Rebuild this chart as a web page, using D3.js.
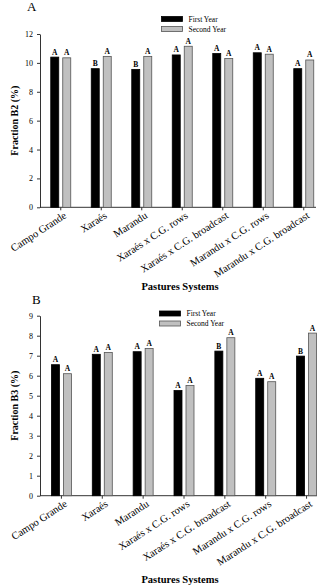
<!DOCTYPE html>
<html>
<head>
<meta charset="utf-8">
<script src="https://cdn.jsdelivr.net/npm/d3@7"></script>
<style>
  body { margin: 0; background: #fff; }
  svg { display: block; font-family: "Liberation Serif", "Times New Roman", serif; }
</style>
</head>
<body>
<div id="root"></div>
<script>
// pasture systems on the x axis
const categories = ["Campo Grande", "Xaraés", "Marandu", "Xaraés x C.G. rows",
    "Xaraés x C.G. broadcast", "Marandu x C.G. rows", "Marandu x C.G. broadcast"];
const seriesNames = ["First Year", "Second Year"];

// panel A - fraction B2
const b2First = [10.4, 9.6, 9.55, 10.55, 10.65, 10.7, 9.6];
const b2Second = [10.35, 10.45, 10.45, 11.15, 10.3, 10.6, 10.2];
const b2LettersFirst = ["A", "B", "B", "A", "A", "A", "A"];
const b2LettersSecond = ["A", "A", "A", "A", "A", "A", "A"];
const b2Ticks = [0, 2, 4, 6, 8, 10, 12];

// panel B - fraction B3
const b3First = [6.55, 7.07, 7.2, 5.26, 7.23, 5.87, 6.98];
const b3Second = [6.1, 7.16, 7.36, 5.51, 7.9, 5.7, 8.13];
const b3LettersFirst = ["A", "A", "A", "A", "B", "A", "B"];
const b3LettersSecond = ["A", "A", "A", "A", "A", "A", "A"];
const b3Ticks = [0, 1, 2, 3, 4, 5, 6, 7, 8, 9];

const colors = { "First Year": "#000", "Second Year": "#c0c0c0" };
const strokes = { "First Year": "#000", "Second Year": "#555" };

let svg = d3.select('#root').append('svg')
    .attr('width', 327)
    .attr('height', 586);

function drawPanel(p) {
    let g = svg.append('g').attr('class', 'panel-' + p.label);

    let x = d3.scaleBand().domain(categories).range(p.xRange).paddingInner(0).paddingOuter(0);
    let xInner = d3.scaleBand().domain(seriesNames).range([-10, 10]).paddingInner(1 / 3);
    let y = d3.scaleLinear().domain([0, d3.max(p.ticks)]).range([p.y0, p.yTop]);

    // panel letter
    g.append('text')
        .attr('x', p.labelPos[0]).attr('y', p.labelPos[1])
        .attr('font-size', 13)
        .text(p.label);

    // y axis
    let yAxis = g.append('g')
        .attr('transform', 'translate(40,0)')
        .call(d3.axisLeft(y).tickValues(p.ticks).tickSize(3).tickSizeOuter(0).tickPadding(4))
        .attr('font-family', null)
        .attr('font-size', 8);
    yAxis.select('.domain').attr('stroke', '#333');
    yAxis.selectAll('.tick line').attr('stroke', '#333');

    // x axis
    let xAxis = g.append('g')
        .attr('transform', 'translate(0,' + p.y0 + ')')
        .call(d3.axisBottom(x).tickSize(3).tickSizeOuter(0).tickPadding(3))
        .attr('font-family', null)
        .attr('font-size', 10.5);
    xAxis.select('.domain').remove();
    xAxis.append('line')
        .attr('x1', 40).attr('x2', p.xEnd)
        .attr('stroke', '#333');
    xAxis.selectAll('.tick line').attr('stroke', '#333');
    xAxis.selectAll('text')
        .attr('text-anchor', 'end')
        .attr('dy', '0.55em')
        .attr('transform', 'rotate(-33)');

    // bars
    let groups = g.selectAll('.group')
        .data(categories)
        .enter()
        .append('g')
        .attr('class', 'group')
        .attr('transform', d => 'translate(' + (x(d) + x.bandwidth() / 2) + ',0)');

    groups.each(function (cat, i) {
        let rows = [
            { s: "First Year", v: p.first[i], l: p.lettersFirst[i] },
            { s: "Second Year", v: p.second[i], l: p.lettersSecond[i] }
        ];
        let sel = d3.select(this);
        sel.selectAll('rect')
            .data(rows)
            .enter()
            .append('rect')
            .attr('x', d => xInner(d.s))
            .attr('y', d => y(d.v))
            .attr('width', xInner.bandwidth())
            .attr('height', d => p.y0 - y(d.v))
            .attr('fill', d => colors[d.s])
            .attr('stroke', d => strokes[d.s])
            .attr('stroke-width', 0.8);
        sel.selectAll('.sig')
            .data(rows)
            .enter()
            .append('text')
            .attr('class', 'sig')
            .attr('x', d => xInner(d.s) + xInner.bandwidth() / 2)
            .attr('y', d => y(d.v) - 2.5)
            .attr('text-anchor', 'middle')
            .attr('font-size', 7.5)
            .attr('font-weight', 'bold')
            .text(d => d.l);
    });

    // legend
    let legend = g.append('g').attr('transform', 'translate(' + p.legendPos[0] + ',' + p.legendPos[1] + ')');
    seriesNames.forEach((s, i) => {
        legend.append('rect')
            .attr('x', 0).attr('y', i * 10)
            .attr('width', 21).attr('height', 5)
            .attr('fill', colors[s])
            .attr('stroke', strokes[s])
            .attr('stroke-width', 0.8);
        legend.append('text')
            .attr('x', 27).attr('y', i * 10 + 5)
            .attr('font-size', 7.5)
            .text(s);
    });

    // axis titles
    g.append('text')
        .attr('transform', 'translate(18,' + ((p.y0 + p.yTop) / 2) + ') rotate(-90)')
        .attr('text-anchor', 'middle')
        .attr('font-size', 10)
        .attr('font-weight', 'bold')
        .text(p.yTitle);

    g.append('text')
        .attr('x', 180).attr('y', p.xTitleY)
        .attr('text-anchor', 'middle')
        .attr('font-size', 10.5)
        .attr('font-weight', 'bold')
        .text('Pastures Systems');
}

drawPanel({
    label: 'A', labelPos: [27, 10.5],
    first: b2First, second: b2Second,
    lettersFirst: b2LettersFirst, lettersSecond: b2LettersSecond,
    ticks: b2Ticks, y0: 207.3, yTop: 34,
    xRange: [40.5, 324], xEnd: 316,
    legendPos: [161.5, 16.5],
    yTitle: 'Fraction B2 (%)', xTitleY: 290
});

drawPanel({
    label: 'B', labelPos: [32, 304],
    first: b3First, second: b3Second,
    lettersFirst: b3LettersFirst, lettersSecond: b3LettersSecond,
    ticks: b3Ticks, y0: 495.7, yTop: 315.7,
    xRange: [41, 327], xEnd: 317,
    legendPos: [159.5, 311],
    yTitle: 'Fraction B3 (%)', xTitleY: 583
});
</script>
</body>
</html>
